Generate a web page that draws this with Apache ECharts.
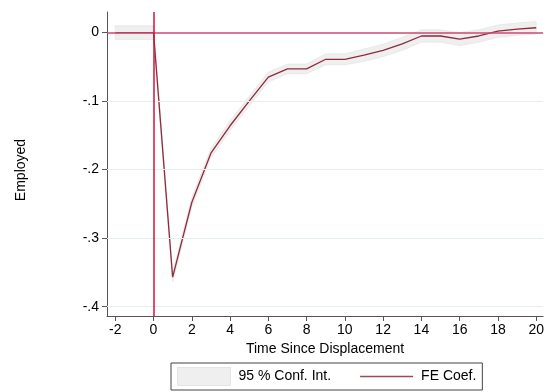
<!DOCTYPE html>
<html>
<head>
<meta charset="utf-8">
<script src="https://cdn.jsdelivr.net/npm/echarts@6/dist/echarts.min.js"></script>
<style>
html,body{margin:0;padding:0;background:#fff;}
#c{width:547px;height:392px;}
</style>
</head>
<body>
<div id="c"></div>
<script>
// Data
var periods = [-2,-1,0,1,2,3,4,5,6,7,8,9,10,11,12,13,14,15,16,17,18,19,20];
var feCoef  = [0,0,0,-0.357,-0.248,-0.176,-0.136,-0.100,-0.065,-0.053,-0.053,-0.039,-0.039,-0.033,-0.026,-0.0165,-0.005,-0.005,-0.0097,-0.005,0.002,0.005,0.007];
var ciLow   = [-0.010,-0.010,-0.010,-0.364,-0.255,-0.183,-0.143,-0.107,-0.072,-0.060,-0.060,-0.047,-0.047,-0.042,-0.035,-0.026,-0.014,-0.014,-0.019,-0.014,-0.007,-0.004,-0.002];
var ciHigh  = [0.010,0.010,0.010,-0.350,-0.241,-0.169,-0.129,-0.093,-0.058,-0.046,-0.046,-0.031,-0.031,-0.024,-0.017,-0.007,0.004,0.004,0.000,0.004,0.011,0.014,0.016];
var xTicks  = [-2,0,2,4,6,8,10,12,14,16,18,20];
var yTicks  = [0,-0.1,-0.2,-0.3,-0.4];
var gridYs  = [-0.1,-0.2,-0.3,-0.4];

var FONT = 'Liberation Sans, Arial, sans-serif';
var chart = echarts.init(document.getElementById('c'));

var bandData = periods.map(function(p,i){ return [p, ciLow[i], ciHigh[i]]; });
var lineData = periods.map(function(p,i){ return [p, feCoef[i]]; });

chart.setOption({
  animation: false,
  textStyle: {fontFamily: FONT},
  grid: {left: 107, right: 0, top: 12, bottom: 76, containLabel: false},
  xAxis: {
    type: 'value', min: -2.43, max: 20.36,
    name: 'Time Since Displacement', nameLocation: 'middle', nameGap: 20,
    nameTextStyle: {fontSize: 14, color: '#000', fontFamily: FONT},
    axisLine: {show: true, onZero: false, lineStyle: {color: '#555', width: 1}},
    axisTick: {show: true, length: 5, customValues: xTicks, lineStyle: {color: '#555'}},
    axisLabel: {customValues: xTicks, fontSize: 14, color: '#000', margin: 7, fontFamily: FONT},
    splitLine: {show: false}
  },
  yAxis: {
    type: 'value', min: -0.4136, max: 0.030,
    axisLine: {show: true, onZero: false, lineStyle: {color: '#555', width: 1}},
    axisTick: {show: true, length: 5, customValues: yTicks, lineStyle: {color: '#555'}},
    axisLabel: {customValues: yTicks, fontSize: 14, color: '#000', margin: 8, fontFamily: FONT,
      formatter: function(v){ if (Math.abs(v) < 1e-9) return '0'; return (v < 0 ? '-' : '') + Math.abs(v).toFixed(1).replace(/^0/, ''); }},
    splitLine: {show: false}
  },
  graphic: [{
    type: 'text', x: 21, y: 170, rotation: Math.PI/2, silent: true,
    style: {text: 'Employed', fontSize: 14, fill: '#000', font: '14px ' + FONT, textAlign: 'center', textVerticalAlign: 'middle'}
  }],
  legend: {
    left: 171, top: 363, orient: 'horizontal',
    padding: [4, 6, 4, 6], borderColor: '#444', borderWidth: 1,
    itemWidth: 53, itemHeight: 18, itemGap: 29,
    textStyle: {fontSize: 14, color: '#000', fontFamily: FONT, padding: [0,0,0,3]},
    data: [
      {name: '95 % Conf. Int.', icon: 'rect', itemStyle: {color: '#efefef', borderColor: '#e4e4e4', borderWidth: 1}},
      {name: 'FE Coef.', icon: 'path://M0,0H0.01V0.01H0Z M0,8.3H53V9.7H0Z M52.99,17.99H53V18H52.99Z', itemStyle: {color: '#a04856', borderWidth: 0}}
    ]
  },
  series: [
    {
      name: 'refs', type: 'line', z: 0, symbol: 'none', silent: true,
      data: lineData, lineStyle: {opacity: 0}, itemStyle: {opacity: 0},
      markLine: {
        silent: true, symbol: 'none', label: {show: false},
        data: gridYs.map(function(v){ return {yAxis: v, lineStyle: {color: '#e4eef0', width: 1, type: 'solid'}}; }).concat([
          {yAxis: 0, lineStyle: {color: '#cc4a70', width: 1.5, type: 'solid'}},
          {xAxis: 0, lineStyle: {color: '#d6103c', width: 1.5, type: 'solid'}}
        ])
      }
    },
    {
      name: '95 % Conf. Int.', type: 'custom', z: 1, silent: true,
      data: bandData,
      encode: {x: 0, y: [1, 2]},
      itemStyle: {color: '#efefef'},
      renderItem: function(params, api){
        if (params.dataIndex !== 0) return null;
        var up = [], dn = [];
        for (var i = 0; i < bandData.length; i++) {
          up.push(api.coord([bandData[i][0], bandData[i][2]]));
          dn.unshift(api.coord([bandData[i][0], bandData[i][1]]));
        }
        return {type: 'polygon', shape: {points: up.concat(dn)},
          style: {fill: '#efefef', stroke: '#e6e6e6', lineWidth: 0.8}};
      }
    },
    {
      name: 'FE Coef.', type: 'line', z: 3, symbol: 'none', silent: true,
      data: lineData,
      lineStyle: {color: '#8e2a3a', width: 1.3},
      itemStyle: {color: '#8e2a3a'}
    }
  ]
});
</script>
</body>
</html>
